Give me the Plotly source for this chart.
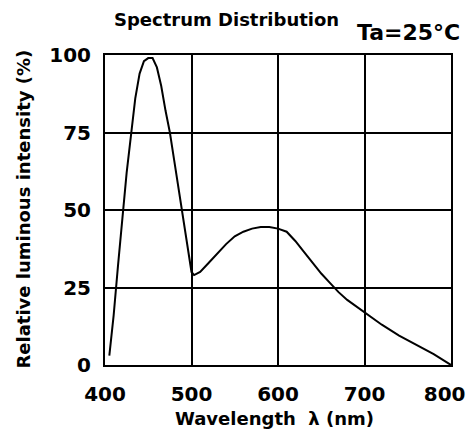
import plotly.graph_objects as go

wavelength = [405, 410, 415, 420, 425, 430, 435, 440, 445, 450, 455, 460, 465, 470, 475,
              480, 485, 490, 495, 500, 503, 510, 520, 530, 540, 550, 560, 570, 580, 590,
              600, 610, 620, 630, 640, 650, 660, 670, 680, 690, 700, 720, 740, 760, 780, 800]
intensity = [3, 16, 32, 48, 62, 74, 86, 94, 98, 99, 99, 96, 90, 82, 75,
             66, 57, 48, 38, 30, 29, 30, 33, 36, 39, 41.5, 43, 44, 44.5, 44.5,
             44, 43, 40, 36.5, 33, 29.5, 26.5, 23.5, 21, 19, 17, 13, 9.5, 6.5, 3.5, 0]

x_ticks = [400, 500, 600, 700, 800]
x_ticktext = ["<b>400</b>", "<b>500</b>", "<b>600</b>", "<b>700</b>", "<b>800</b>\u00a0\u00a0"]
y_ticks = [0, 25, 50, 75, 100]

FONT = "DejaVu Sans, Liberation Sans, Arial"

fig = go.Figure()
fig.add_trace(go.Scatter(x=wavelength, y=intensity, mode="lines",
                         line=dict(color="black", width=2), showlegend=False))

fig.update_layout(
    width=466, height=445,
    margin=dict(l=105, r=15, t=55, b=80, autoexpand=False),
    paper_bgcolor="white", plot_bgcolor="white",
    font=dict(family=FONT, color="black", size=16),
    xaxis=dict(range=[400, 800], tickvals=x_ticks, ticktext=x_ticktext,
               showgrid=True, gridcolor="black", gridwidth=2, zeroline=False,
               showline=True, linecolor="black", linewidth=2, mirror=True, automargin=False,
               ticks="", tickfont=dict(size=20, family=FONT), ticklabelstandoff=10,
               ticklabeloverflow="allow"),
    yaxis=dict(range=[0, 100], tickvals=y_ticks, ticktext=[f"<b>{v}</b>" for v in y_ticks],
               showgrid=True, gridcolor="black", gridwidth=2, zeroline=False,
               showline=True, linecolor="black", linewidth=2, mirror=True, automargin=False,
               ticks="", tickfont=dict(size=20, family=FONT), ticklabelstandoff=8,
               ticklabeloverflow="allow"),
    annotations=[
        dict(text="<b>Spectrum Distribution</b>", x=0.35, y=1.113, xref="paper", yref="paper",
             xanchor="center", yanchor="middle", showarrow=False,
             font=dict(size=18, family=FONT)),
        dict(text="<b>Ta=25°C</b>", x=1.032, y=1.071, xref="paper", yref="paper",
             xanchor="right", yanchor="middle", showarrow=False,
             font=dict(size=22, family=FONT)),
        dict(text="<b>Wavelength  λ (nm)</b>", x=0.49, y=-0.172, xref="paper", yref="paper",
             xanchor="center", yanchor="middle", showarrow=False,
             font=dict(size=18, family=FONT)),
        dict(text="<b>Relative luminous intensity (%)</b>", x=-0.2355, y=0.503, xref="paper", yref="paper",
             xanchor="center", yanchor="middle", showarrow=False, textangle=-90,
             font=dict(size=18, family=FONT)),
    ],
)

fig.write_html("out.html")
